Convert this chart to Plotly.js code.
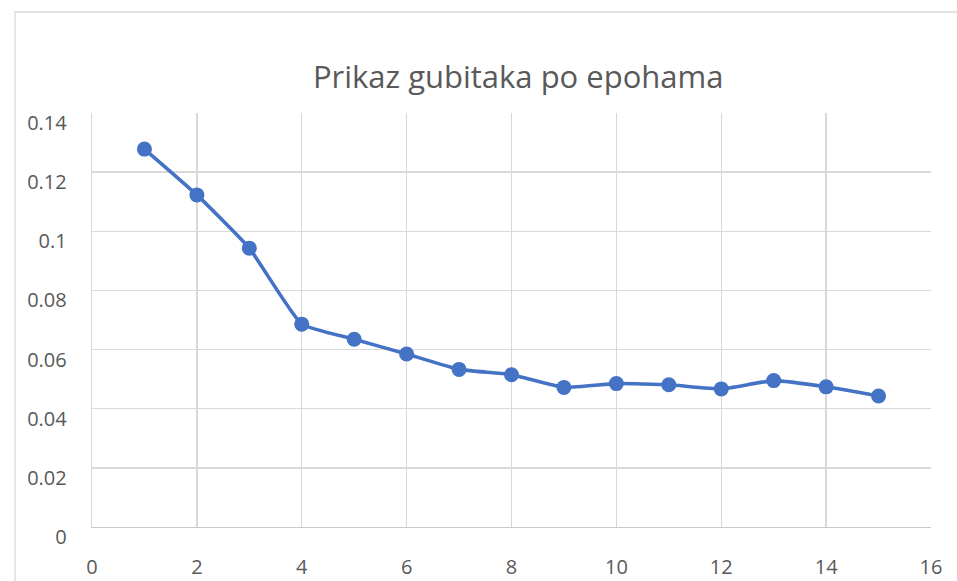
<!DOCTYPE html>
<html>
<head>
<meta charset="utf-8">
<script src="https://cdn.plot.ly/plotly-3.0.1.min.js"></script>
<style>html,body{margin:0;padding:0;background:#fff;}#chart{width:957px;height:581px;}</style>
</head>
<body>
<div id="chart"></div>
<script>
const titleText = "Prikaz gubitaka po epohama";
const epochs = [1,2,3,4,5,6,7,8,9,10,11,12,13,14,15];
const losses = [0.1278,0.1123,0.0943,0.0686,0.0635,0.0585,0.0533,0.0515,0.0472,0.0485,0.0481,0.0467,0.0495,0.0474,0.0443];
const xTicks = [0,2,4,6,8,10,12,14,16];
const yTicks = [0,0.02,0.04,0.06,0.08,0.1,0.12,0.14];
const yTickText = ["0","0.02","0.04","0.06","0.08","0.1","0.12","0.14"];

const trace = {
  x: epochs, y: losses, type: 'scatter', mode: 'lines+markers',
  line: {color: '#4472c4', width: 3.6, shape: 'spline', smoothing: 0.4},
  marker: {color: '#4472c4', size: 15},
  hoverinfo: 'x+y'
};
const font = {family: 'Open Sans, Liberation Sans, sans-serif', color: '#595959', size: 20};
const layout = {
  width: 957, height: 581,
  margin: {l: 92, r: 26, t: 113, b: 54},
  paper_bgcolor: '#fff', plot_bgcolor: '#fff',
  showlegend: false,
  font: font,
  title: {text: titleText, x: 0.508, xref: 'paper', y: 0.867, yref: 'container', yanchor: 'middle',
          font: {family: 'Open Sans, Liberation Sans, sans-serif', size: 31, color: '#595959'}},
  xaxis: {range: [0, 16], tickvals: xTicks, ticktext: xTicks.map(String), showgrid: true,
          gridcolor: '#d9d9d9', gridwidth: 1.3, zeroline: false, showline: true, linecolor: '#c8c8c8', linewidth: 1.3,
          mirror: false, ticks: '', ticklabelstandoff: 22, tickfont: font, fixedrange: true},
  yaxis: {range: [0, 0.14], tickvals: yTicks, ticktext: yTickText, showgrid: true,
          gridcolor: '#d9d9d9', gridwidth: 1.3, zeroline: false, showline: true, linecolor: '#d9d9d9', linewidth: 1.3,
          ticks: '', ticklabelstandoff: 20, ticklabelshift: 10, tickfont: font, fixedrange: true},
  shapes: [{type: 'rect', xref: 'paper', yref: 'paper', x0: -0.0918, x1: 1.3, y0: -0.4, y1: 1.244,
            line: {color: '#d9d9d9', width: 1.3}, fillcolor: 'rgba(0,0,0,0)', layer: 'below'}]
};
Plotly.newPlot('chart', [trace], layout, {displayModeBar: false, staticPlot: true});
</script>
</body>
</html>
